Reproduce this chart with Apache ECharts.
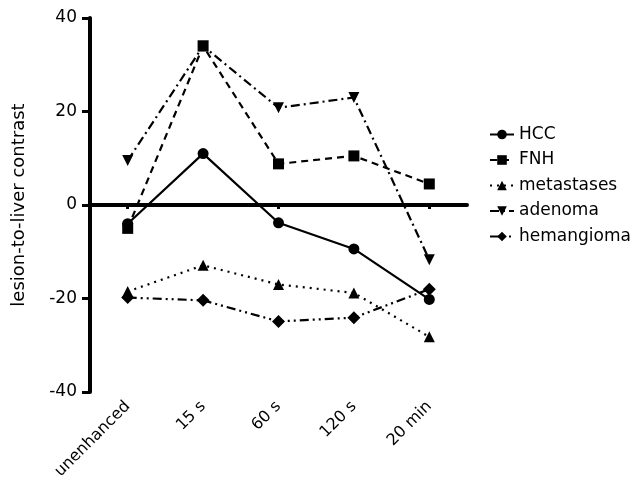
<!DOCTYPE html>
<html lang="en">
<head>
<meta charset="UTF-8">
<title>lesion-to-liver contrast</title>
<script src="https://cdn.jsdelivr.net/npm/echarts@6/dist/echarts.min.js"></script>
<style>
html, body { margin: 0; padding: 0; background: #fff; }
#chart { width: 640px; height: 482px; }
</style>
</head>
<body>
<div id="chart"></div>
<script>
var phases = ['unenhanced', '15 s', '60 s', '120 s', '20 min'];
var yTicks = [-40, -20, 0, 20, 40];

var hcc = [-4, 11, -3.8, -9.4, -20.2];
var fnh = [-5, 34, 8.8, 10.5, 4.5];
var metastases = [-18.5, -12.9, -17, -18.8, -28.2];
var adenoma = [9.5, 34, 20.8, 23, -11.7];
var hemangioma = [-19.8, -20.4, -24.9, -24.1, -18];

var font = 'DejaVu Sans, Arial, sans-serif';

function mkSeries(name, data, symbol, dash, rot) {
	return {
		name: name,
		type: 'line',
		data: data,
		symbol: symbol,
		symbolSize: symbol == 'diamond' ? 13 : 11,
		symbolRotate: rot || 0,
		xAxisIndex: 0,
		itemStyle: { color: '#000' },
		lineStyle: { color: '#000', width: 2.2, type: dash },
		z: 3
	};
}

var chart = echarts.init(document.getElementById('chart'));
chart.setOption({
	animation: false,
	backgroundColor: '#fff',
	grid: { left: 90, right: 173, top: 18, bottom: 90 },
	legend: {
		orient: 'vertical',
		left: 484,
		top: 121,
		itemGap: 8.5,
		itemWidth: 24,
		itemHeight: 12,
		textStyle: { fontFamily: font, fontSize: 17, color: '#000' },
		data: ['HCC', 'FNH', 'metastases', 'adenoma', 'hemangioma']
	},
	xAxis: [
		{
			type: 'category',
			data: phases,
			position: 'bottom',
			axisLine: { show: false, onZero: false },
			axisTick: { show: false },
			axisLabel: { rotate: 45, fontFamily: font, fontSize: 16, color: '#000', margin: 12 }
		},
		{
			type: 'category',
			data: phases,
			position: 'bottom',
			axisLine: { show: true, onZero: true, onZeroAxisIndex: 0, lineStyle: { color: '#000', width: 4 } },
			axisTick: { show: true, alignWithLabel: true, length: 4, lineStyle: { color: '#000', width: 3 } },
			axisLabel: { show: false }
		}
	],
	yAxis: {
		type: 'value',
		min: yTicks[0],
		max: yTicks[yTicks.length - 1],
		interval: 20,
		name: 'lesion-to-liver contrast',
		nameLocation: 'middle',
		nameGap: 62,
		nameTextStyle: { fontFamily: font, fontSize: 18, color: '#000' },
		splitLine: { show: false },
		axisLine: { show: true, onZero: false, lineStyle: { color: '#000', width: 4 } },
		axisTick: { show: true, length: 8, lineStyle: { color: '#000', width: 3 } },
		axisLabel: { fontFamily: font, fontSize: 17, color: '#000', margin: 13 }
	},
	series: [
		mkSeries('HCC', hcc, 'circle', 'solid'),
		mkSeries('FNH', fnh, 'rect', [7, 5]),
		mkSeries('metastases', metastases, 'triangle', [2, 5]),
		mkSeries('adenoma', adenoma, 'triangle', [9, 4, 2, 4], 180),
		mkSeries('hemangioma', hemangioma, 'diamond', [9, 4, 2, 4, 2, 4])
	]
});
</script>
</body>
</html>
